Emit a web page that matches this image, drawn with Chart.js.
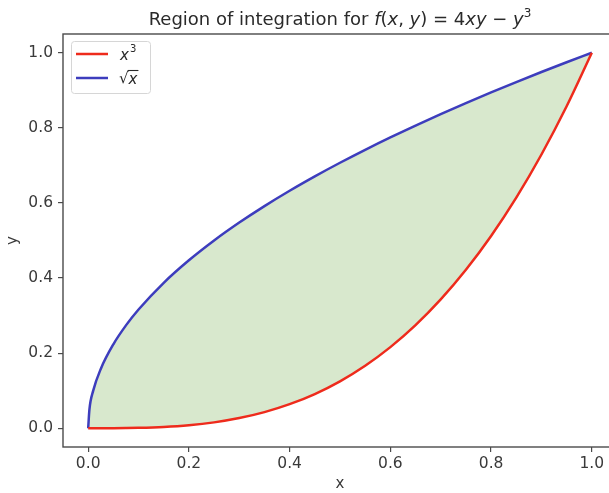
<!DOCTYPE html>
<html>
<head>
<meta charset="utf-8">
<script src="https://cdn.jsdelivr.net/npm/chart.js@4.4.0/dist/chart.umd.min.js"></script>
<style>
  html, body { margin: 0; padding: 0; background: #fff; overflow: hidden; }
  #wrap { position: absolute; left: 0; top: 0; width: 640px; height: 493px; }
</style>
</head>
<body>
<div id="wrap"><canvas id="c" width="640" height="493"></canvas></div>
<script>
// Sample points along x in [0, 1]
const xValues = [0, 0.0025, 0.01, 0.025, 0.05, 0.075, 0.1, 0.15, 0.2, 0.25, 0.3, 0.35, 0.4,
  0.45, 0.5, 0.55, 0.6, 0.65, 0.7, 0.75, 0.8, 0.85, 0.9, 0.95, 1.0];
// Lower boundary: y = x^3
const cubeValues = [0, 0, 0, 0.00002, 0.00013, 0.00042, 0.001, 0.0034, 0.008, 0.0156, 0.027,
  0.0429, 0.064, 0.0911, 0.125, 0.1664, 0.216, 0.2746, 0.343, 0.4219, 0.512, 0.6141, 0.729,
  0.8574, 1.0];
// Upper boundary: y = sqrt(x)
const sqrtValues = [0, 0.05, 0.1, 0.158, 0.2236, 0.2739, 0.3162, 0.3873, 0.4472, 0.5, 0.5477,
  0.5916, 0.6325, 0.6708, 0.7071, 0.7416, 0.7746, 0.8062, 0.8367, 0.866, 0.8944, 0.922,
  0.9487, 0.9747, 1.0];
const xTicks = [0, 0.2, 0.4, 0.6, 0.8, 1.0];
const yTicks = [0, 0.2, 0.4, 0.6, 0.8, 1.0];
const seriesLabels = ['x³', '√x'];

const RED = '#ee2b1c';
const BLUE = '#3d3dbd';
const FILL = '#d8e8cd';
const AXIS = '#4a4a4a';
const TEXT = '#3a3a3a';
const FONT = "'DejaVu Sans', sans-serif";

const toPoints = (ys) => xValues.map((x, i) => ({ x: x, y: ys[i] }));

// Frame around the plotting area plus the title and the legend box
const decor = {
  id: 'decor',
  afterDatasetsDraw(chart) {
    const { ctx, chartArea: a } = chart;
    ctx.save();
    ctx.strokeStyle = AXIS;
    ctx.lineWidth = 1.4;
    ctx.strokeRect(a.left, a.top, a.right - a.left, a.bottom - a.top);

    // title, with the formula part in oblique
    const S = 18;
    const parts = [
      { t: 'Region of integration for ', f: S + 'px ' + FONT },
      { t: 'f', f: 'italic ' + S + 'px ' + FONT },
      { t: '(', f: S + 'px ' + FONT },
      { t: 'x', f: 'italic ' + S + 'px ' + FONT },
      { t: ', ', f: S + 'px ' + FONT },
      { t: 'y', f: 'italic ' + S + 'px ' + FONT },
      { t: ') = 4', f: S + 'px ' + FONT },
      { t: 'xy', f: 'italic ' + S + 'px ' + FONT },
      { t: ' \u2212 ', f: S + 'px ' + FONT },
      { t: 'y', f: 'italic ' + S + 'px ' + FONT },
      { t: '3', f: '12px ' + FONT, sup: true }
    ];
    let total = 0;
    parts.forEach(p => { ctx.font = p.f; p.w = ctx.measureText(p.t).width; total += p.w; });
    let x = (a.left + a.right) / 2 - total / 2;
    const baseY = 25;
    ctx.fillStyle = '#2a2a2a';
    ctx.textBaseline = 'alphabetic';
    ctx.textAlign = 'left';
    parts.forEach(p => {
      ctx.font = p.f;
      ctx.fillText(p.t, x, p.sup ? baseY - 8 : baseY);
      x += p.w;
    });

    // legend
    const lx = a.left + 8, ly = a.top + 7, lw = 79, lh = 52;
    ctx.fillStyle = 'rgba(255,255,255,0.85)';
    ctx.strokeStyle = '#d6d6d6';
    ctx.lineWidth = 1;
    ctx.beginPath();
    ctx.roundRect(lx + 0.5, ly + 0.5, lw, lh, 3);
    ctx.fill();
    ctx.stroke();
    const rows = [
      { c: RED, y: ly + 13 },
      { c: BLUE, y: ly + 37 }
    ];
    rows.forEach((r) => {
      ctx.strokeStyle = r.c;
      ctx.lineWidth = 2.5;
      ctx.beginPath();
      ctx.moveTo(lx + 5, r.y);
      ctx.lineTo(lx + 37, r.y);
      ctx.stroke();
    });
    ctx.fillStyle = '#2a2a2a';
    ctx.textBaseline = 'middle';
    const tx = lx + 49;
    // x³
    ctx.font = 'italic 15px ' + FONT;
    ctx.fillText('x', tx, rows[0].y + 2);
    const wx = ctx.measureText('x').width;
    ctx.font = '10px ' + FONT;
    ctx.fillText('3', tx + wx + 1, rows[0].y - 5);
    // √x
    ctx.font = '15px ' + FONT;
    ctx.fillText('\u221A', tx - 1, rows[1].y + 1);
    const ws = ctx.measureText('\u221A').width;
    ctx.font = 'italic 15px ' + FONT;
    ctx.fillText('x', tx - 1 + ws, rows[1].y + 2);
    const wx2 = ctx.measureText('x').width;
    ctx.strokeStyle = '#2a2a2a';
    ctx.lineWidth = 1.1;
    ctx.beginPath();
    ctx.moveTo(tx - 1 + ws - 1, rows[1].y - 7.5);
    ctx.lineTo(tx - 1 + ws + wx2 + 1, rows[1].y - 7.5);
    ctx.stroke();
    ctx.restore();
  }
};

new Chart(document.getElementById('c'), {
  type: 'line',
  data: {
    datasets: [
      {
        label: seriesLabels[0],
        data: toPoints(cubeValues),
        borderColor: RED,
        borderWidth: 2.5,
        pointRadius: 0,
        cubicInterpolationMode: 'monotone',
        fill: false
      },
      {
        label: seriesLabels[1],
        data: toPoints(sqrtValues),
        borderColor: BLUE,
        borderWidth: 2.5,
        pointRadius: 0,
        cubicInterpolationMode: 'monotone',
        fill: { target: 0 },
        backgroundColor: FILL
      }
    ]
  },
  options: {
    responsive: false,
    animation: false,
    events: [],
    layout: { padding: { top: 34, right: 23, left: 0, bottom: 0 } },
    plugins: {
      legend: { display: false },
      title: { display: false },
      tooltip: { enabled: false },
      filler: { propagate: false, drawTime: 'beforeDatasetsDraw' }
    },
    scales: {
      x: {
        type: 'linear',
        min: -0.05,
        max: 1.05,
        afterBuildTicks: (s) => { s.ticks = xTicks.map(v => ({ value: v })); },
        afterFit: (s) => { s.height = 46; },
        border: { display: false },
        grid: { display: true, drawOnChartArea: false, drawTicks: true, tickLength: 5, color: AXIS, lineWidth: 1.2 },
        ticks: {
          color: TEXT,
          font: { family: FONT, size: 15.5 },
          padding: 3,
          maxRotation: 0,
          callback: (v) => Number(v).toFixed(1)
        },
        title: { display: true, text: 'x', color: TEXT, font: { family: FONT, size: 15 }, padding: { top: 0, bottom: 0 } }
      },
      y: {
        type: 'linear',
        min: -0.05,
        max: 1.05,
        afterBuildTicks: (s) => { s.ticks = yTicks.map(v => ({ value: v })); },
        afterFit: (s) => { s.width = 63; },
        border: { display: false },
        grid: { display: true, drawOnChartArea: false, drawTicks: true, tickLength: 5, color: AXIS, lineWidth: 1.2 },
        ticks: {
          color: TEXT,
          font: { family: FONT, size: 15.5 },
          padding: 5,
          callback: (v) => Number(v).toFixed(1)
        },
        title: { display: true, text: 'y', color: TEXT, font: { family: FONT, size: 15 }, padding: { top: 4, bottom: 0 } }
      }
    }
  },
  plugins: [decor]
});
</script>
</body>
</html>
